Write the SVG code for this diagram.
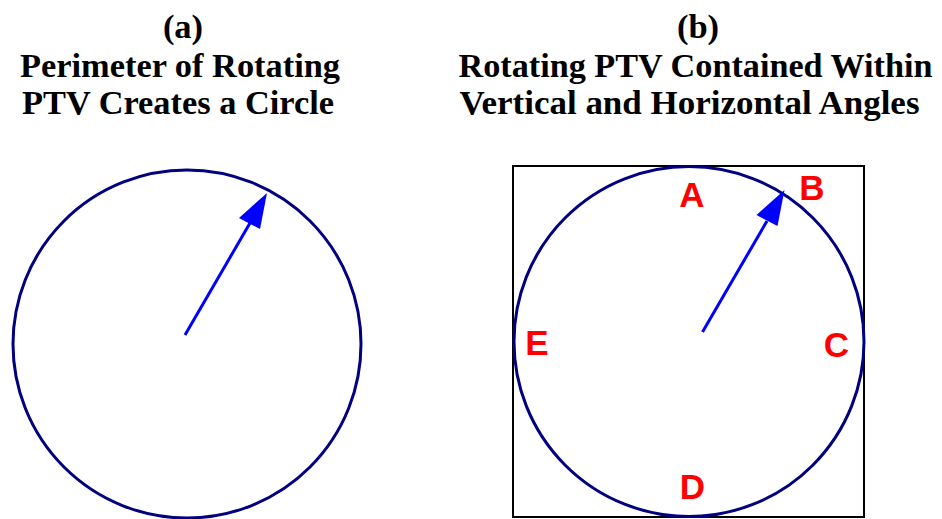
<svg xmlns="http://www.w3.org/2000/svg" width="942" height="519" viewBox="0 0 942 519">
<style>
.title{font-family:"Liberation Serif","Times New Roman",serif;font-weight:bold;font-size:34.5px;fill:#000;text-anchor:middle}
.lbl{font-family:"Liberation Sans",Arial,sans-serif;font-weight:bold;font-size:35px;fill:#FF0000;text-anchor:middle}
.circ{fill:none;stroke:#000080;stroke-width:3}
.arr{stroke:#0000FF;stroke-width:3;fill:none}
.head{fill:#0000FF;stroke:none}
</style>
<rect width="942" height="519" fill="#fff"/>
<g id="title-a">
<text class="title" x="183" y="38">(a)</text>
<text class="title" x="180" y="77" textLength="320" lengthAdjust="spacingAndGlyphs">Perimeter of Rotating</text>
<text class="title" x="178" y="114" textLength="312" lengthAdjust="spacingAndGlyphs">PTV Creates a Circle</text>
</g>
<g id="title-b">
<text class="title" x="698" y="38">(b)</text>
<text class="title" x="695.5" y="77" textLength="474" lengthAdjust="spacingAndGlyphs">Rotating PTV Contained Within</text>
<text class="title" x="689.5" y="114" textLength="460" lengthAdjust="spacingAndGlyphs">Vertical and Horizontal Angles</text>
</g>
<g id="circle-a">
<circle class="circ" cx="187" cy="344" r="174"/>
</g>
<g id="box-b">
<rect x="513" y="166" width="351" height="351" fill="none" stroke="#000" stroke-width="2"/>
</g>
<g id="circle-b">
<circle class="circ" cx="689" cy="341.5" r="175"/>
</g>
<g id="connectors">
<line class="arr" x1="185" y1="335" x2="250" y2="223"/>
<polygon class="head" points="267,193 239,218 260,229"/>
<line class="arr" x1="702.5" y1="332" x2="767" y2="221"/>
<polygon class="head" points="784.5,190 756.5,215 777.5,226"/>
</g>
<g id="labels">
<text class="lbl" x="692" y="207">A</text>
<text class="lbl" x="812" y="200">B</text>
<text class="lbl" x="836.5" y="357">C</text>
<text class="lbl" x="692.5" y="499">D</text>
<text class="lbl" x="537" y="355">E</text>
</g>
</svg>
